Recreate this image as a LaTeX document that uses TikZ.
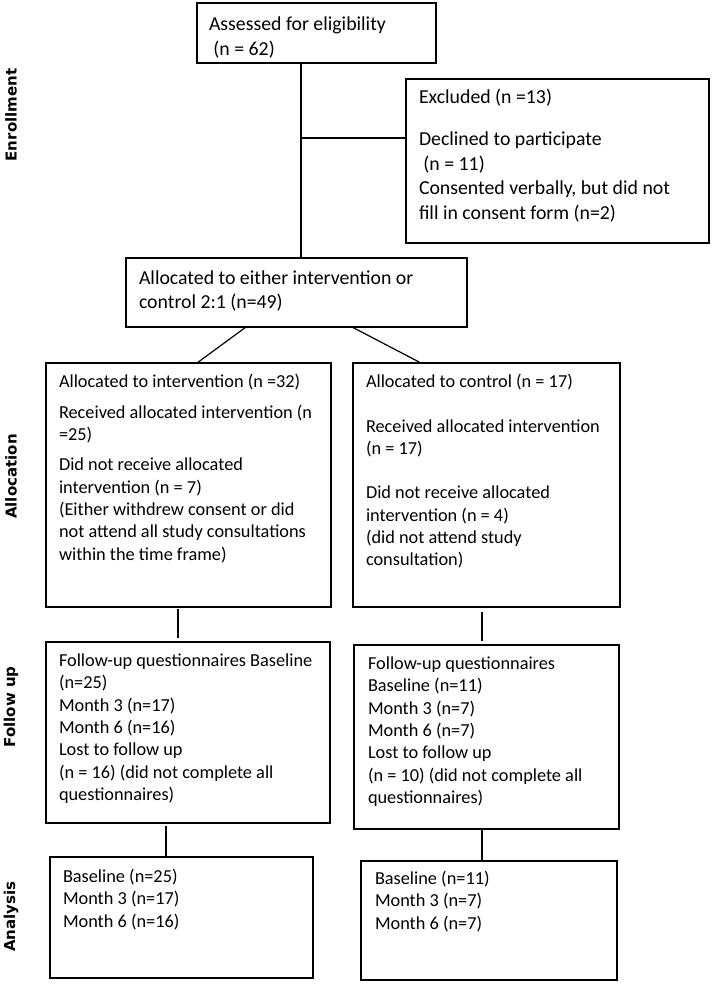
\documentclass[tikz,border=0pt]{standalone}
\usepackage{fontspec}
\setmainfont{Carlito}
\newfontfamily\labelfont{DejaVu Sans}
\newcommand{\Ln}[1]{\hbox{#1}}
\newcommand{\Gap}[1]{\vskip #1pt}
\begin{document}
\begin{tikzpicture}[x=1pt,y=-1pt,
  box/.style={draw, line width=1.2pt, inner sep=0pt, outer sep=0pt, anchor=north west},
  txt/.style={inner sep=0pt, outer sep=0pt, anchor=base west},
  big/.style={font=\fontsize{19.8}{24.4}\selectfont},
  small/.style={font=\fontsize{18.3}{22.3}\selectfont},
  side/.style={rotate=90, inner sep=0pt, font=\labelfont\bfseries\fontsize{15}{18}\selectfont},
  conn/.style={line width=1.2pt}]
\useasboundingbox (0,0) rectangle (712,984);

% boxes
\node[box, minimum width=239pt, minimum height=60pt]  (assess) at (197,3) {};
\node[box, minimum width=303pt, minimum height=164pt] (excl)   at (406,79) {};
\node[box, minimum width=341pt, minimum height=69pt]  (alloc)  at (126,258) {};
\node[box, minimum width=285pt, minimum height=244pt] (intL)   at (46,363) {};
\node[box, minimum width=267pt, minimum height=244pt] (ctrL)   at (353,363) {};
\node[box, minimum width=284pt, minimum height=181pt] (fuL)    at (46,642) {};
\node[box, minimum width=265pt, minimum height=184pt] (fuR)    at (354,645) {};
\node[box, minimum width=263pt, minimum height=121pt] (anL)    at (50,857) {};
\node[box, minimum width=256pt, minimum height=119pt] (anR)    at (361,861) {};

% texts
\node[txt, big] (assessT) at (209,31) {\vtop{\Ln{Assessed for eligibility}\Ln{\ (n = 62)}}};
\node[txt, big] (exclT) at (419,104) {\vtop{\Ln{Excluded (n =13)}\Gap{17.6}\Ln{Declined to participate}\Ln{\ (n = 11)}\Ln{Consented verbally, but did not}\Ln{fill in consent form (n=2)}}};
\node[txt, big] (allocT) at (139,284) {\vtop{\Ln{Allocated to either intervention or}\Ln{control 2:1 (n=49)}}};
\node[txt, small] (intLT) at (59,387.5) {\vtop{\Ln{Allocated to intervention (n =32)}\Gap{8.7}\Ln{Received allocated intervention (n}\Ln{=25)}\Gap{7.7}\Ln{Did not receive allocated}\Ln{intervention (n = 7)}\Ln{(Either withdrew consent or did}\Ln{not attend all study consultations}\Ln{within the time frame)}}};
\node[txt, small] (ctrLT) at (366,387.5) {\vtop{\Ln{Allocated to control (n = 17)}\Gap{22.7}\Ln{Received allocated intervention}\Ln{(n = 17)}\Gap{21.7}\Ln{Did not receive allocated}\Ln{intervention (n = 4)}\Ln{(did not attend study}\Ln{consultation)}}};
\node[txt, small] (fuLT) at (59,666.5) {\vtop{\Ln{Follow-up questionnaires Baseline}\Ln{(n=25)}\Ln{Month 3 (n=17)}\Ln{Month 6 (n=16)}\Ln{Lost to follow up}\Ln{(n = 16) (did not complete all}\Ln{questionnaires)}}};
\node[txt, small] (fuRT) at (368,669.5) {\vtop{\Ln{Follow-up questionnaires}\Ln{Baseline (n=11)}\Ln{Month 3 (n=7)}\Ln{Month 6 (n=7)}\Ln{Lost to follow up}\Ln{(n = 10) (did not complete all}\Ln{questionnaires)}}};
\node[txt, small] (anLT) at (63,882.5) {\vtop{\Ln{Baseline (n=25)}\Ln{Month 3 (n=17)}\Ln{Month 6 (n=16)}}};
\node[txt, small] (anRT) at (375,884.5) {\vtop{\Ln{Baseline (n=11)}\Ln{Month 3 (n=7)}\Ln{Month 6 (n=7)}}};

% side labels
\node[side] (lEnr) at (11,115) {Enrollment};
\node[side] (lAll) at (11,476.5) {Allocation};
\node[side] (lFol) at (11,707) {Follow up};
\node[side] (lAna) at (11,916.5) {Analysis};

% connectors
\coordinate (v1) at (301,0);
\coordinate (b1) at (301,138);
\draw[conn] (assess.south -| v1) -- (alloc.north -| v1);
\draw[conn] (b1) -- (b1 -| excl.west);
\draw[conn] ([xshift=120pt]alloc.south west) -- ([xshift=151pt]intL.north west);
\draw[conn] ([xshift=226pt]alloc.south west) -- ([xshift=68pt]ctrL.north west);
\draw[conn] ([xshift=132pt,yshift=-2pt]intL.south west) -- ([xshift=132pt,yshift=4pt]fuL.north west);
\draw[conn] ([xshift=129pt,yshift=-5pt]ctrL.south west) -- ([xshift=128pt,yshift=4pt]fuR.north west);
\draw[conn] ([xshift=120pt,yshift=-3pt]fuL.south west) -- ([xshift=116pt]anL.north west);
\draw[conn] ([xshift=128pt,yshift=-1pt]fuR.south west) -- ([xshift=121pt]anR.north west);
\end{tikzpicture}
\end{document}
